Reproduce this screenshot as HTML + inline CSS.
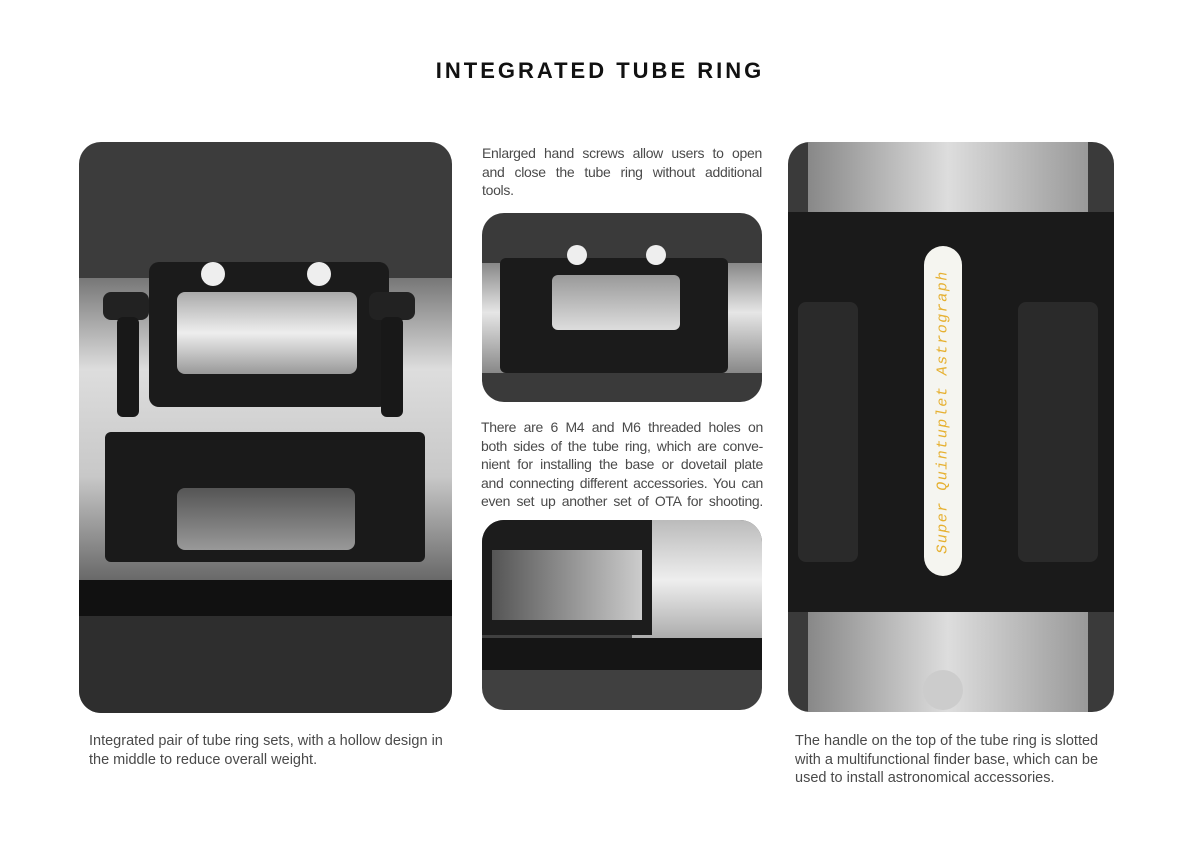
<!DOCTYPE html>
<html><head><meta charset="utf-8"><style>
body{margin:0;width:1200px;height:850px;background:#fff;position:relative;overflow:hidden;font-family:"Liberation Sans",sans-serif;}
.a{position:absolute;}
.t{color:#4a4a4a;font-size:14px;line-height:18.5px;letter-spacing:-0.3px;}
.t div{white-space:nowrap;}
.b{font-size:14.5px;letter-spacing:0;}
.j div{text-align:justify;text-align-last:justify;white-space:normal;}
.j div.l{text-align-last:left;}
.p{position:absolute;overflow:hidden;border-radius:22px;}
</style></head><body>
<div class="a" style="left:0;width:1200px;top:58px;text-align:center;font-size:22px;font-weight:bold;letter-spacing:3px;color:#111;">INTEGRATED TUBE RING</div>

<div class="p" style="left:79px;top:142px;width:373px;height:571px;background:#3c3c3c;">
  <div class="a" style="left:0;top:136px;width:373px;height:305px;background:linear-gradient(#777,#ddd 30%,#c8c8c8 65%,#666);"></div>
  <div class="a" style="left:0;top:438px;width:373px;height:36px;background:#111;"></div>
  <div class="a" style="left:0;top:474px;width:373px;height:100px;background:#2e2e2e;"></div>
  <div class="a" style="left:70px;top:120px;width:240px;height:145px;background:#1b1b1b;border-radius:10px;"></div>
  <div class="a" style="left:98px;top:150px;width:180px;height:82px;background:linear-gradient(#aaa,#eee,#999);border-radius:8px;"></div>
  <div class="a" style="left:26px;top:290px;width:320px;height:130px;background:#1a1a1a;border-radius:6px;"></div>
  <div class="a" style="left:98px;top:346px;width:178px;height:62px;background:linear-gradient(#555,#999);border-radius:8px;"></div>
  <div class="a" style="left:24px;top:150px;width:46px;height:28px;background:#222;border-radius:8px;"></div>
  <div class="a" style="left:290px;top:150px;width:46px;height:28px;background:#222;border-radius:8px;"></div>
  <div class="a" style="left:38px;top:175px;width:22px;height:100px;background:#181818;border-radius:6px;"></div>
  <div class="a" style="left:302px;top:175px;width:22px;height:100px;background:#181818;border-radius:6px;"></div>
  <div class="a" style="left:122px;top:120px;width:24px;height:24px;background:#eee;border-radius:50%;"></div>
  <div class="a" style="left:228px;top:120px;width:24px;height:24px;background:#eee;border-radius:50%;"></div>
</div>

<div class="a t j" style="left:482px;top:144px;width:280px;">
<div>Enlarged hand screws allow users to open</div>
<div>and close the tube ring without additional</div>
<div class="l">tools.</div>
</div>

<div class="p" style="left:482px;top:213px;width:280px;height:189px;background:#3a3a3a;">
  <div class="a" style="left:0;top:50px;width:280px;height:110px;background:linear-gradient(#888,#e6e6e6 45%,#888);"></div>
  <div class="a" style="left:18px;top:45px;width:228px;height:115px;background:#1b1b1b;border-radius:6px;"></div>
  <div class="a" style="left:70px;top:62px;width:128px;height:55px;background:linear-gradient(#999,#ddd);border-radius:6px;"></div>
  <div class="a" style="left:85px;top:32px;width:20px;height:20px;background:#eee;border-radius:50%;"></div>
  <div class="a" style="left:164px;top:32px;width:20px;height:20px;background:#eee;border-radius:50%;"></div>
</div>

<div class="a t j" style="left:481px;top:418px;width:282px;">
<div>There are 6 M4 and M6 threaded holes on</div>
<div>both sides of the tube ring, which are conve-</div>
<div>nient for installing the base or dovetail plate</div>
<div>and connecting different accessories. You can</div>
<div>even set up another set of OTA for shooting.</div>
</div>

<div class="p" style="left:482px;top:520px;width:280px;height:190px;background:#404040;">
  <div class="a" style="left:150px;top:0;width:130px;height:120px;background:linear-gradient(#bbb,#eee,#aaa);"></div>
  <div class="a" style="left:0;top:0;width:170px;height:115px;background:#1c1c1c;"></div>
  <div class="a" style="left:10px;top:30px;width:150px;height:70px;background:linear-gradient(90deg,#555,#ccc);"></div>
  <div class="a" style="left:0;top:118px;width:280px;height:32px;background:#151515;"></div>
</div>

<div class="p" style="left:788px;top:142px;width:326px;height:570px;background:#3a3a3a;">
  <div class="a" style="left:20px;top:0;width:280px;height:90px;background:linear-gradient(90deg,#888,#ddd 50%,#999);"></div>
  <div class="a" style="left:20px;top:470px;width:280px;height:100px;background:linear-gradient(90deg,#888,#ddd 50%,#999);"></div>
  <div class="a" style="left:0;top:70px;width:326px;height:400px;background:#1a1a1a;"></div>
  <div class="a" style="left:10px;top:160px;width:60px;height:260px;background:#2a2a2a;border-radius:8px;"></div>
  <div class="a" style="left:230px;top:160px;width:80px;height:260px;background:#2a2a2a;border-radius:8px;"></div>
  <div class="a" style="left:136px;top:104px;width:38px;height:330px;background:#f5f5f0;border-radius:19px;"></div>
  <div class="a" style="left:155px;top:270px;transform:translate(-50%,-50%) rotate(-90deg);white-space:nowrap;color:#e6b030;font-family:'Liberation Mono',monospace;font-style:italic;font-size:15px;letter-spacing:1.5px;">Super Quintuplet Astrograph</div>
  <div class="a" style="left:135px;top:528px;width:40px;height:40px;background:#ccc;border-radius:50%;"></div>
</div>

<div class="a t b" style="left:89px;top:732px;">
<div>Integrated pair of tube ring sets, with a hollow design in</div>
<div>the middle to reduce overall weight.</div></div>
<div class="a t b" style="left:795px;top:732px;">
<div>The handle on the top of the tube ring is slotted</div>
<div>with a multifunctional finder base, which can be</div>
<div>used to install astronomical accessories.</div></div>
</body></html>
